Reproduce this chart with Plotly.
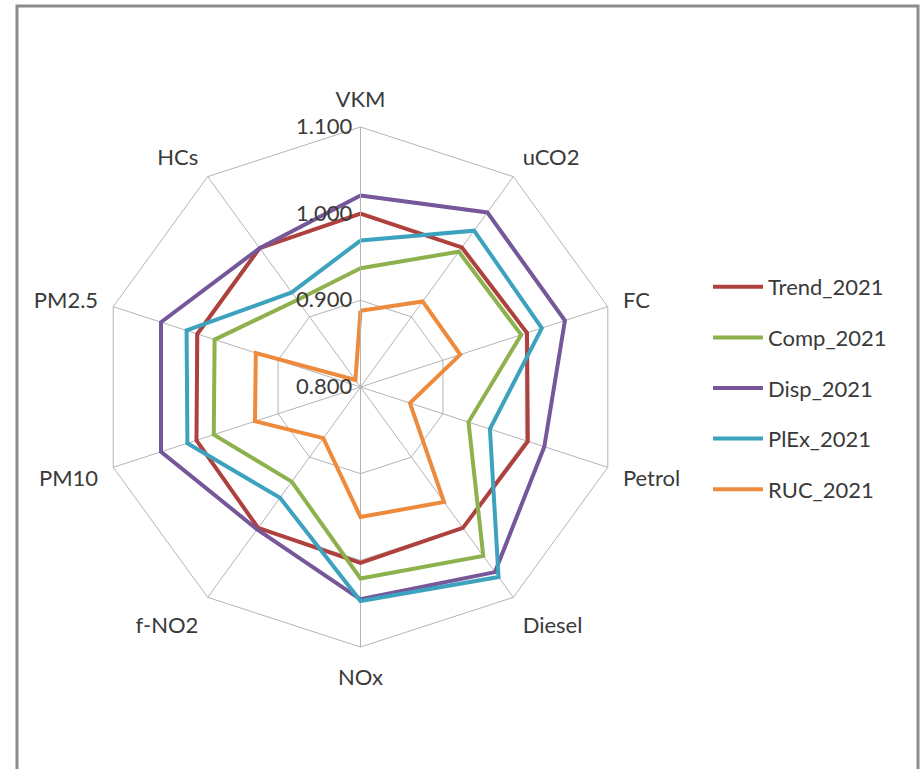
import plotly.graph_objects as go

categories = ["VKM", "uCO2", "FC", "Petrol", "Diesel", "NOx", "f-NO2", "PM10", "PM2.5", "HCs"]

trend_2021 = [1.000, 0.999, 1.002, 1.003, 1.001, 1.003, 1.001, 0.999, 0.998, 0.998]
comp_2021 = [0.937, 0.993, 0.995, 0.931, 1.041, 1.021, 0.935, 0.978, 0.977, 0.924]
disp_2021 = [1.021, 1.049, 1.048, 1.023, 1.064, 1.045, 1.003, 1.042, 1.042, 0.998]
plex_2021 = [0.969, 1.023, 1.020, 0.957, 1.071, 1.047, 0.958, 1.010, 1.011, 0.935]
ruc_2021 = [0.888, 0.922, 0.921, 0.860, 0.964, 0.950, 0.873, 0.928, 0.927, 0.810]

radial_ticks = [0.8, 0.9, 1.0, 1.1]
radial_ticktext = ["0.800", "0.900", "1.000", "1.100"]

series = [
    ("Trend_2021", trend_2021, "#AE403D"),
    ("Comp_2021", comp_2021, "#8CB14D"),
    ("Disp_2021", disp_2021, "#75579A"),
    ("PlEx_2021", plex_2021, "#3CA2BD"),
    ("RUC_2021", ruc_2021, "#EE8A3C"),
]

FONT = "Lato, 'Open Sans', sans-serif"
TEXT = "#3A3A3A"
GRID = "#B4B4B4"

fig = go.Figure()
for name, vals, color in series:
    fig.add_trace(go.Scatterpolar(
        r=vals + vals[:1],
        theta=categories + categories[:1],
        mode="lines",
        name=name,
        legendgroup=name,
        line=dict(color=color, width=4),
    ))

W, H = 920, 769
cx, cy, R = 360.5, 387, 260
fig.update_layout(
    width=W, height=H,
    margin=dict(l=0, r=0, t=0, b=0),
    paper_bgcolor="white",
    plot_bgcolor="white",
    font=dict(family=FONT, size=22, color=TEXT),
    showlegend=True,
    legend=dict(
        x=708 / W, xanchor="left",
        y=1 - 388 / H, yanchor="middle",
        font=dict(family=FONT, size=22, color=TEXT),
        tracegroupgap=19,
        itemwidth=50,
        bgcolor="rgba(0,0,0,0)",
    ),
    polar=dict(
        domain=dict(x=[(cx - R) / W, (cx + R) / W], y=[1 - (cy + R) / H, 1 - (cy - R) / H]),
        bgcolor="white",
        gridshape="linear",
        radialaxis=dict(
            range=[0.8, 1.1],
            tickvals=radial_ticks,
            ticktext=radial_ticktext,
            angle=90,
            side="counterclockwise",
            tickangle=90,
            ticks="",
            showline=True,
            linecolor=GRID,
            linewidth=1,
            gridcolor=GRID,
            gridwidth=1,
            tickfont=dict(family=FONT, size=22, color=TEXT),
        ),
        angularaxis=dict(
            rotation=90,
            direction="clockwise",
            ticks="outside",
            ticklen=11,
            tickcolor="rgba(0,0,0,0)",
            showline=True,
            linecolor=GRID,
            linewidth=1,
            gridcolor=GRID,
            gridwidth=1,
            tickfont=dict(family=FONT, size=22, color=TEXT),
        ),
    ),
    shapes=[dict(
        type="rect", xref="paper", yref="paper",
        x0=17 / W, x1=918 / W, y0=-0.05, y1=1 - 6 / H,
        line=dict(color="#8C8C8C", width=3),
        fillcolor="rgba(0,0,0,0)",
        layer="above",
    )],
)

fig.write_html("out.html", config={"displayModeBar": False},
               post_script="document.body.style.margin='0';")
